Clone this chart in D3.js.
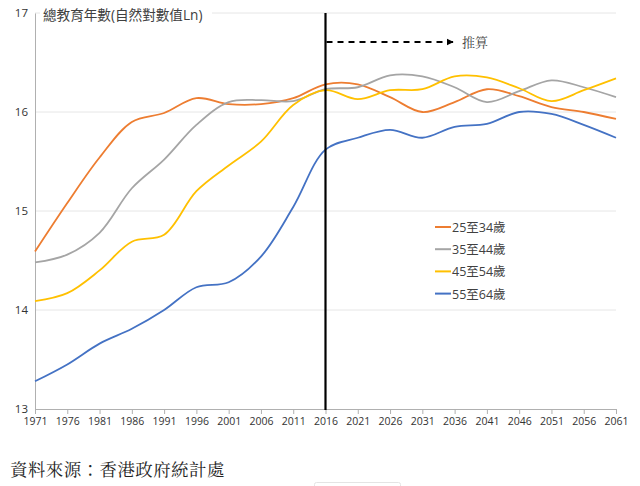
<!DOCTYPE html>
<html><head><meta charset="utf-8">
<script src="https://cdn.jsdelivr.net/npm/d3@7"></script>
<style>
html,body{margin:0;padding:0;background:#fff;}
svg{display:block;}
</style></head>
<body>
<svg id="c" width="640" height="486"></svg>
<script>
const years = [1971,1976,1981,1986,1991,1996,2001,2006,2011,2016,2021,2026,2031,2036,2041,2046,2051,2056,2061];
const seriesNames = ["25至34歲","35至44歲","45至54歲","55至64歲"];
const s25 = [14.59,15.08,15.54,15.90,15.99,16.14,16.08,16.08,16.14,16.28,16.28,16.15,16.00,16.10,16.23,16.16,16.05,16.00,15.93];
const s35 = [14.48,14.56,14.78,15.23,15.52,15.87,16.10,16.12,16.11,16.23,16.25,16.37,16.36,16.25,16.10,16.21,16.32,16.25,16.15];
const s45 = [14.09,14.17,14.40,14.69,14.76,15.20,15.46,15.70,16.07,16.22,16.13,16.22,16.23,16.36,16.35,16.24,16.11,16.22,16.34];
const s55 = [13.28,13.45,13.66,13.81,14.00,14.23,14.28,14.54,15.04,15.62,15.74,15.82,15.74,15.85,15.88,16.00,15.98,15.87,15.74];
const colors = ["#ED7D31","#A5A5A5","#FFC000","#4472C4"];
const yTicks = [13,14,15,16,17];
const splitYear = 2016;
const titleText = "總教育年數(自然對數值Ln)";
const projText = "推算";
const sourceText = "資料來源：香港政府統計處";

const svg = d3.select("#c");
const font = "'Open Sans','Noto Sans CJK TC',sans-serif";
const x = d3.scalePoint().domain(years).range([35, 616]);
const y = d3.scaleLinear().domain([13,17]).range([409, 13]);

// gridlines
svg.append("g").selectAll("line").data(yTicks.slice(1)).join("line")
  .attr("x1",35).attr("x2",616).attr("y1",d=>y(d)).attr("y2",d=>y(d))
  .attr("stroke","#e6e6e6").attr("stroke-width",1);

// y axis
const yAxis = svg.append("g").attr("transform","translate(35,0)")
  .call(d3.axisLeft(y).tickValues(yTicks).tickSize(0).tickPadding(7).tickFormat(d3.format("d")));
yAxis.select(".domain").attr("stroke","#b0b0b0");
yAxis.selectAll("text").attr("font-family",font).attr("font-size",11.5).attr("fill","#333");

// x axis
const xAxis = svg.append("g").attr("transform","translate(0,409)")
  .call(d3.axisBottom(x).tickSizeOuter(0).tickSize(5).tickPadding(4));
xAxis.select(".domain").attr("stroke","#b0b0b0");
xAxis.selectAll(".tick line").attr("stroke","#b0b0b0");
xAxis.selectAll("text").attr("font-family",font).attr("font-size",10.5).attr("fill","#333");

// title
svg.append("rect").attr("x",40).attr("y",4).attr("width",172).attr("height",20).attr("fill","#fff");
svg.append("text").attr("x",43).attr("y",20).text(titleText)
  .attr("font-family",font).attr("font-size",13.6).attr("fill","#404040");

// lines
const data = [s25,s35,s45,s55];
const line = d3.line().x((d,i)=>x(years[i])).y(d=>y(d)).curve(d3.curveCatmullRom.alpha(0.5));
svg.append("g").selectAll("path").data(data).join("path")
  .attr("d",d=>line(d)).attr("fill","none")
  .attr("stroke",(d,i)=>colors[i]).attr("stroke-width",1.8);

// vertical split line
svg.append("line").attr("x1",x(splitYear)).attr("x2",x(splitYear)).attr("y1",13).attr("y2",410)
  .attr("stroke","#000").attr("stroke-width",2.2);

// projection arrow
svg.append("defs").append("marker").attr("id","arr").attr("viewBox","0 0 10 10")
  .attr("refX",9).attr("refY",5).attr("markerWidth",4).attr("markerHeight",4).attr("orient","auto")
  .append("path").attr("d","M0,0L10,5L0,10z").attr("fill","#000");
svg.append("line").attr("x1",x(splitYear)+1).attr("x2",453).attr("y1",42).attr("y2",42)
  .attr("stroke","#000").attr("stroke-width",1.8).attr("stroke-dasharray","6,5")
  .attr("marker-end","url(#arr)");
svg.append("text").attr("x",462).attr("y",47).text(projText)
  .attr("font-family","'Noto Serif CJK TC','Noto Sans CJK TC',serif").attr("font-size",13).attr("fill","#404040");

// legend
const lg = svg.append("g").selectAll("g").data(seriesNames).join("g")
  .attr("transform",(d,i)=>`translate(435,${227+i*22.2})`);
lg.append("line").attr("x1",0).attr("x2",16).attr("stroke",(d,i)=>colors[i]).attr("stroke-width",2);
lg.append("text").attr("x",17).attr("y",5).text(d=>d)
  .attr("font-family",font).attr("font-size",12.5).attr("fill","#404040");

// source
svg.append("text").attr("x",10).attr("y",476).text(sourceText)
  .attr("font-family","'Noto Serif CJK TC','Noto Sans CJK TC',serif").attr("font-size",17.5)
  .attr("letter-spacing",0.4).attr("fill","#222");

// bottom small box
svg.append("rect").attr("x",314.5).attr("y",482.5).attr("width",86).attr("height",10).attr("rx",2)
  .attr("fill","#fff").attr("stroke","#e4e4e4");
</script>
</body></html>
